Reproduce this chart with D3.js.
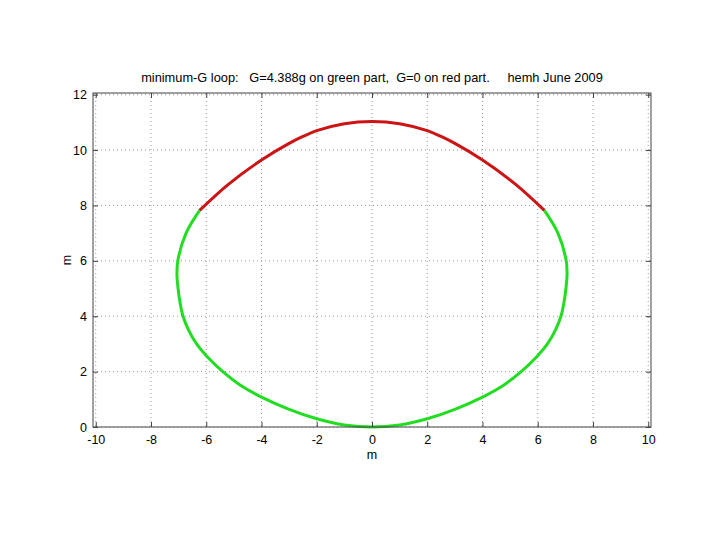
<!DOCTYPE html>
<html>
<head>
<meta charset="utf-8">
<script src="https://cdn.jsdelivr.net/npm/d3@7"></script>
<style>
  html, body { margin: 0; padding: 0; background: #fff; }
  svg { display: block; }
  text { font-family: "Liberation Sans", Arial, Helvetica, sans-serif; fill: #000; }
</style>
</head>
<body>
<svg id="chart" width="720" height="540"></svg>
<script>
// ---- data ----
const titleText = "minimum-G loop:   G=4.388g on green part,  G=0 on red part.     hemh June 2009";
const xTicks = [-10, -8, -6, -4, -2, 0, 2, 4, 6, 8, 10];
const yTicks = [0, 2, 4, 6, 8, 10, 12];
const xLabel = "m";
const yLabel = "m";

// red part (G = 0), left junction -> top -> right junction
const redX = [-6.24, -5.2, -4.0, -3.0, -2.5, -2.0, -1.0, 0.0, 1.0, 2.0, 2.5, 3.0, 4.0, 5.2, 6.24];
const redY = [7.82, 8.76, 9.64, 10.24, 10.49, 10.70, 10.95, 11.03, 10.95, 10.70, 10.49, 10.24, 9.64, 8.76, 7.82];

// green part (G = 4.388g), right junction -> bottom -> left junction
const greenX = [6.24, 6.73, 7.03, 7.06, 7.02, 6.95, 6.84, 6.64, 6.35, 5.93, 5.4, 4.75, 4.0, 3.0, 2.0, 1.0, 0.0,
                -1.0, -2.0, -3.0, -4.0, -4.75, -5.4, -5.93, -6.35, -6.64, -6.84, -6.95, -7.02, -7.06, -7.03, -6.73, -6.24];
const greenY = [7.82, 7.0, 6.0, 5.5, 5.0, 4.5, 4.0, 3.5, 3.0, 2.5, 2.0, 1.5, 1.08, 0.64, 0.30, 0.075, 0.0,
                0.075, 0.30, 0.64, 1.08, 1.5, 2.0, 2.5, 3.0, 3.5, 4.0, 4.5, 5.0, 5.5, 6.0, 7.0, 7.82];

// ---- layout ----
const svg = d3.select("#chart");
const L = 93, R = 651, T = 93, B = 427;
const x = d3.scaleLinear().domain([-10.1, 10.1]).range([L, R]);
const y = d3.scaleLinear().domain([0, 12.06]).range([B, T]);

svg.append("rect").attr("width", 720).attr("height", 540).attr("fill", "#fff");

// grid
const grid = svg.append("g");
grid.selectAll("line.gx").data(xTicks).enter().append("line")
  .attr("x1", d => x(d)).attr("x2", d => x(d)).attr("y1", T).attr("y2", B)
  .attr("stroke", "#9a9a9a").attr("stroke-width", 1).attr("stroke-dasharray", "1,3");
grid.selectAll("line.gy").data(yTicks).enter().append("line")
  .attr("x1", L).attr("x2", R).attr("y1", d => y(d)).attr("y2", d => y(d))
  .attr("stroke", "#9a9a9a").attr("stroke-width", 1).attr("stroke-dasharray", "1,3");

// curves
const line = d3.line().x(d => x(d[0])).y(d => y(d[1])).curve(d3.curveCatmullRom.alpha(0.5));
const redPts = redX.map((v, i) => [v, redY[i]]);
const greenPts = greenX.map((v, i) => [v, greenY[i]]);
svg.append("path").attr("d", line(greenPts)).attr("fill", "none")
  .attr("stroke", "#22dd22").attr("stroke-width", 3).attr("stroke-linejoin", "round");
svg.append("path").attr("d", line(redPts)).attr("fill", "none")
  .attr("stroke", "#cc1414").attr("stroke-width", 3).attr("stroke-linejoin", "round");

// axes (ticks inside, on all four sides)
const tk = 5;
const axisColor = "#444";
const fmt = d => String(d);
const xb = d3.axisBottom(x).tickValues(xTicks).tickSizeInner(-tk).tickSizeOuter(0).tickPadding(8).tickFormat(fmt);
const xt = d3.axisTop(x).tickValues(xTicks).tickSizeInner(-tk).tickSizeOuter(0).tickFormat("");
const yl = d3.axisLeft(y).tickValues(yTicks).tickSizeInner(-tk).tickSizeOuter(0).tickPadding(6).tickFormat(fmt);
const yr = d3.axisRight(y).tickValues(yTicks).tickSizeInner(-tk).tickSizeOuter(0).tickFormat("");

function style(g) {
  g.select(".domain").remove();
  g.selectAll(".tick line").attr("stroke", axisColor);
  g.selectAll("text").attr("font-size", 12.5).attr("fill", "#000")
    .style("font-family", '"Liberation Sans", Arial, sans-serif');
}
svg.append("g").attr("transform", `translate(0,${B})`).call(xb).call(style);
svg.append("g").attr("transform", `translate(0,${T})`).call(xt).call(style);
svg.append("g").attr("transform", `translate(${L},0)`).call(yl).call(style);
svg.append("g").attr("transform", `translate(${R},0)`).call(yr).call(style);

// box
svg.append("rect").attr("x", L).attr("y", T).attr("width", R - L).attr("height", B - T)
  .attr("fill", "none").attr("stroke", axisColor).attr("stroke-width", 1);

// title & labels
svg.append("text").attr("x", 372).attr("y", 82).attr("text-anchor", "middle")
  .attr("font-size", 12.8).attr("xml:space", "preserve").style("white-space", "pre").text(titleText);
svg.append("text").attr("x", 372).attr("y", 459).attr("text-anchor", "middle")
  .attr("font-size", 12.5).text(xLabel);
svg.append("text").attr("transform", `translate(71,${(T + B) / 2}) rotate(-90)`)
  .attr("text-anchor", "middle").attr("font-size", 12.5).text(yLabel);
</script>
</body>
</html>
